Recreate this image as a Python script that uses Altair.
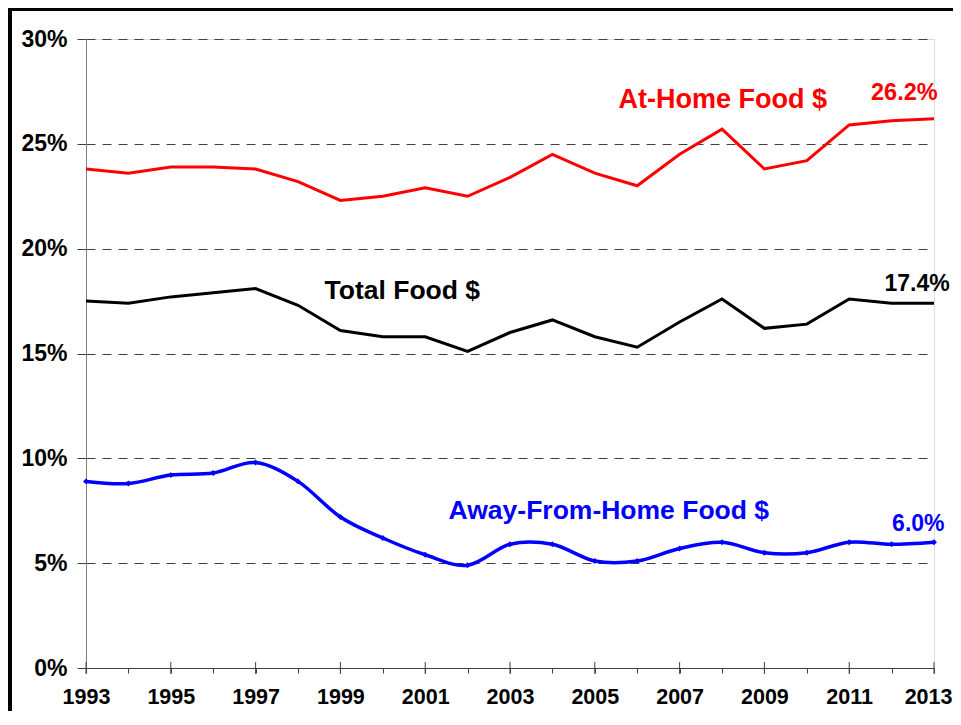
import altair as alt
import pandas as pd

years = list(range(1993, 2014))
at_home = [23.8, 23.6, 23.9, 23.9, 23.8, 23.2, 22.3, 22.5, 22.9, 22.5, 23.4,
           24.5, 23.6, 23.0, 24.5, 25.7, 23.8, 24.2, 25.9, 26.1, 26.2]
total = [17.5, 17.4, 17.7, 17.9, 18.1, 17.3, 16.1, 15.8, 15.8, 15.1, 16.0,
         16.6, 15.8, 15.3, 16.5, 17.6, 16.2, 16.4, 17.6, 17.4, 17.4]
away = [8.9, 8.8, 9.2, 9.3, 9.8, 8.9, 7.2, 6.2, 5.4, 4.9, 5.9,
        5.9, 5.1, 5.1, 5.7, 6.0, 5.5, 5.5, 6.0, 5.9, 6.0]

y_ticks = [0, 5, 10, 15, 20, 25, 30]
x_label_years = list(range(1993, 2014, 2))

label_text = ["At-Home Food $", "Total Food $", "Away-From-Home Food $",
              "26.2%", "17.4%", "6.0%"]
label_x = [2008.02, 2000.46, 2005.33, 2012.30, 2012.6, 2012.63]
label_y = [27.07, 17.96, 7.51, 27.42, 18.31, 6.89]
label_color = ["#FF0000", "#000000", "#0000FF", "#FF0000", "#000000", "#0000FF"]
label_size = [27, 26.5, 26.5, 23.5, 23, 23]

FONT = "Liberation Sans"
W, H = 848, 629
PAD = {"left": 78, "top": 31, "right": 19, "bottom": 43}

df_home = pd.DataFrame({"year": years, "value": at_home})
df_total = pd.DataFrame({"year": years, "value": total})
df_away = pd.DataFrame({"year": years, "value": away})
df_labels = pd.DataFrame({"text": label_text, "x": label_x, "y": label_y,
                          "color": label_color, "size": label_size})
df_major = pd.DataFrame({"year": x_label_years})

xscale = alt.Scale(domain=[1993, 2013], nice=False, zero=False)
yscale = alt.Scale(domain=[0, 30], nice=False)

x_axis = alt.Axis(values=years, labelExpr="datum.value % 2 == 1 ? datum.value : ''",
                  grid=False, tickSize=5, tickColor="#404040", domainColor="#404040",
                  labelFontSize=21.5, labelFontWeight="bold", labelColor="#000000",
                  labelPadding=13, labelFlush=False, labelOverlap=False, title=None,
                  labelFont=FONT,
                  labelAlign=alt.condition("datum.value == 2013", alt.value("right"),
                                           alt.value("center")),
                  labelOffset=alt.condition("datum.value == 2013", alt.value(18),
                                            alt.value(0)))
y_axis = alt.Axis(values=y_ticks, labelExpr="datum.value + '%'", grid=True,
                  gridDash=[9, 7], gridColor="#404040", gridWidth=1, gridOpacity=1,
                  tickSize=9, tickColor="#404040", domainColor="#808080",
                  labelFontSize=23, labelFontWeight="bold", labelColor="#000000",
                  labelPadding=10, labelFlush=False, labelOverlap=False, title=None,
                  labelFont=FONT)

home_line = alt.Chart(df_home).mark_line(color="#FF0000", strokeWidth=3).encode(
    x=alt.X("year:Q", scale=xscale, axis=x_axis),
    y=alt.Y("value:Q", scale=yscale, axis=y_axis),
)
total_line = alt.Chart(df_total).mark_line(color="#000000", strokeWidth=3).encode(
    x=alt.X("year:Q", scale=xscale),
    y=alt.Y("value:Q", scale=yscale),
)
away_line = alt.Chart(df_away).mark_line(color="#0000FF", strokeWidth=3.5,
                                         interpolate="cardinal").encode(
    x=alt.X("year:Q", scale=xscale),
    y=alt.Y("value:Q", scale=yscale),
)
away_pts = alt.Chart(df_away).mark_point(shape="diamond", filled=True, color="#0000FF",
                                         size=35, opacity=1).encode(
    x=alt.X("year:Q", scale=xscale),
    y=alt.Y("value:Q", scale=yscale),
)

major_ticks = alt.Chart(df_major).mark_rule(color="#404040", strokeWidth=1).encode(
    x=alt.X("year:Q", scale=xscale),
    y=alt.value(H - 6),
    y2=alt.value(H + 6),
)

labels = alt.Chart(df_labels).mark_text(fontWeight="bold", font=FONT, baseline="middle",
                                        align="center").encode(
    x=alt.X("x:Q", scale=xscale),
    y=alt.Y("y:Q", scale=yscale),
    text="text:N",
    color=alt.Color("color:N", scale=None),
    size=alt.Size("size:Q", scale=None),
)

border_left = alt.Chart(df_major).mark_rule(color="#000000", strokeWidth=3).encode(
    x=alt.value(-76), y=alt.value(-31), y2=alt.value(H + PAD["bottom"]),
)
border_top = alt.Chart(df_major).mark_rule(color="#000000", strokeWidth=3).encode(
    x=alt.value(-77.5), x2=alt.value(W + PAD["right"]), y=alt.value(-29.5),
)

chart = alt.layer(
    home_line, total_line, away_line, away_pts, major_ticks, labels,
    border_left, border_top,
).properties(
    width=W, height=H,
    autosize=alt.AutoSizeParams(type="none"),
    padding=PAD,
).configure_view(stroke=None).configure(font=FONT)

chart.save("out.html", embed_options={"renderer": "svg", "actions": False})
